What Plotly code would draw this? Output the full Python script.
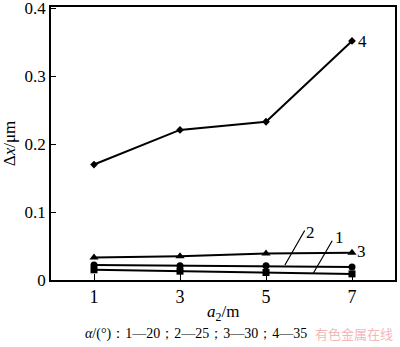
import plotly.graph_objects as go

a2 = [1, 3, 5, 7]
s1 = [0.015, 0.013, 0.011, 0.009]
s2 = [0.022, 0.021, 0.021, 0.019]
s3 = [0.033, 0.035, 0.039, 0.040]
s4 = [0.170, 0.221, 0.233, 0.352]
series_names = ["1", "2", "3", "4"]
series_values = [s1, s2, s3, s4]
markers = ["square", "circle", "triangle-up", "diamond"]
marker_sizes = [7, 7, 8, 6]

x_ticks = [1, 3, 5, 7]
y_ticks = [0, 0.1, 0.2, 0.3, 0.4]
y_tick_text = ["0", "0.1", "0.2", "0.3", "0.4"]

# label positions (x, y) and optional leader line (from x0,y0 to x1,y1)
labels = [
    ("1", 6.70, 0.063, 6.56, 0.060, 6.10, 0.010),
    ("2", 6.03, 0.070, 5.92, 0.075, 5.44, 0.022),
    ("3", 7.22, 0.042, None, None, None, None),
    ("4", 7.24, 0.351, None, None, None, None),
]

FONT = "Liberation Serif, DejaVu Serif, serif"

fig = go.Figure()
for name, vals, m, ms in zip(series_names, series_values, markers, marker_sizes):
    fig.add_trace(go.Scatter(
        x=a2, y=vals, mode="lines+markers", name=name,
        line=dict(color="black", width=2),
        marker=dict(symbol=m, size=ms, color="black"),
        showlegend=False, cliponaxis=False,
    ))

annotations = []
for text, lx, ly, x0, y0, x1, y1 in labels:
    annotations.append(dict(x=lx, y=ly, xref="x", yref="y", text=text,
                            showarrow=False, font=dict(family=FONT, size=17, color="black")))
    if x0 is not None:
        annotations.append(dict(x=x1, y=y1, ax=x0, ay=y0, xref="x", yref="y",
                                axref="x", ayref="y", text="", showarrow=True,
                                arrowhead=0, arrowwidth=1.2, arrowcolor="black"))

annotations.append(dict(x=0.5, y=-0.12, xref="paper", yref="paper", yanchor="middle",
                        text="<i>a</i><sub>2</sub>/m", showarrow=False,
                        font=dict(family=FONT, size=17, color="black")))
annotations.append(dict(x=(83 - 51) / (395 - 51), y=-0.197, xref="paper", yref="paper",
                        xanchor="left", yanchor="middle",
                        text="<i>α</i>/(°)：1—20；2—25；3—30；4—35", showarrow=False,
                        font=dict(family=FONT, size=14, color="black")))
annotations.append(dict(x=1.0, y=-0.197, xref="paper", yref="paper", xanchor="right",
                        yanchor="middle",
                        text="有色金属在线", showarrow=False,
                        font=dict(family="Noto Sans CJK SC", size=13, color="#f2b8b8")))

fig.update_layout(
    width=400, height=347,
    margin=dict(l=51, r=5, t=7, b=67),
    paper_bgcolor="white", plot_bgcolor="white",
    font=dict(family=FONT, size=16, color="black"),
    annotations=annotations,
)
fig.update_xaxes(
    range=[0, 8], tickvals=x_ticks, ticktext=[str(v) for v in x_ticks],
    showgrid=False, zeroline=False, showline=True, linecolor="black", linewidth=1.5,
    mirror=True, ticks="inside", ticklen=6, tickcolor="black", tickwidth=1.2,
    tickfont=dict(family=FONT, size=18), automargin=False,
)
fig.update_yaxes(
    range=[0, 0.402], tickvals=y_ticks, ticktext=y_tick_text,
    showgrid=False, zeroline=False, showline=True, linecolor="black", linewidth=1.5,
    mirror=True, ticks="inside", ticklen=5, tickcolor="black", tickwidth=1.2,
    tickfont=dict(family=FONT, size=17), automargin=False, ticklabeloverflow="allow",
    title=dict(text="Δ<i>x</i>/μm", font=dict(family=FONT, size=17), standoff=6),
)

fig.write_html("out.html")
